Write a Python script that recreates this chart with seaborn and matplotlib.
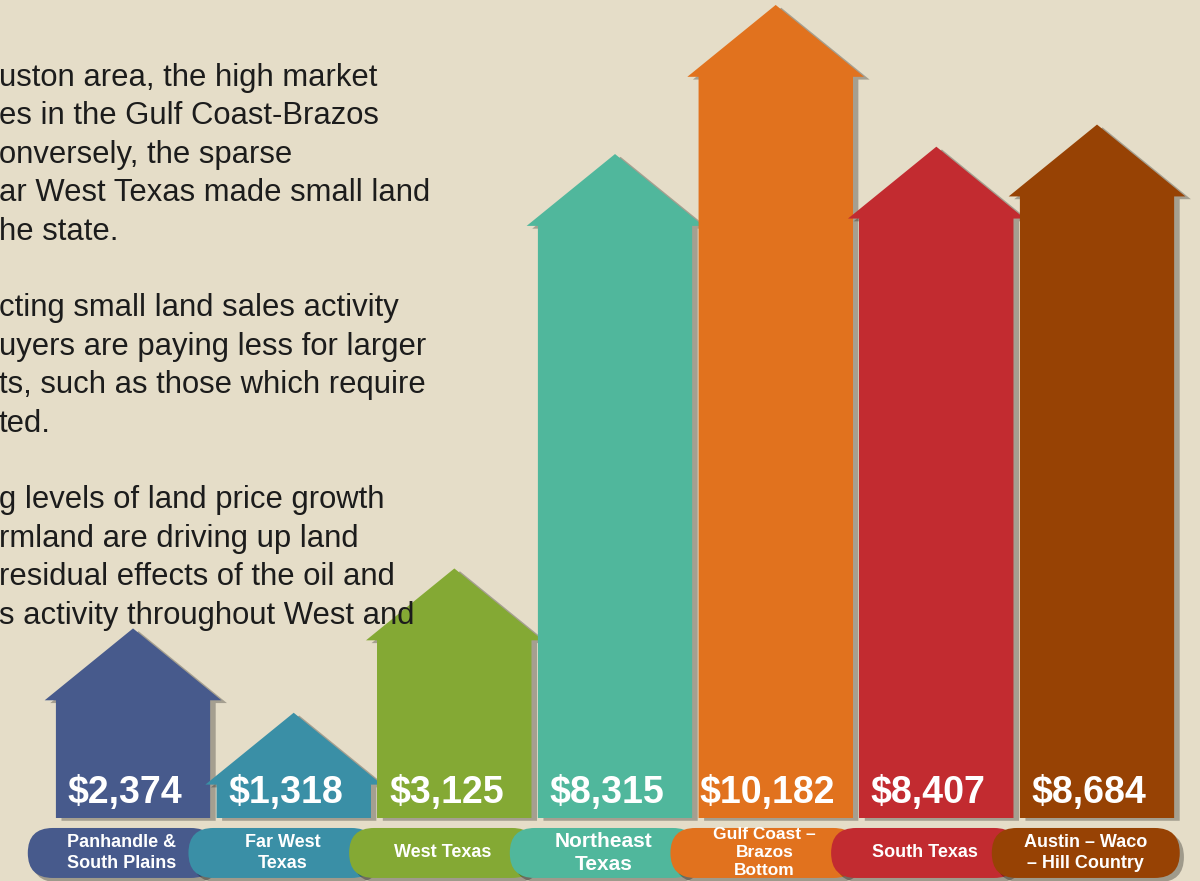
import matplotlib
matplotlib.use("Agg")
import matplotlib.pyplot as plt
import matplotlib.patheffects as pe
from matplotlib.patches import Polygon, FancyBboxPatch
import seaborn as sns
import pandas as pd

# ---- data ----
regions = ["Panhandle &\nSouth Plains", "Far West\nTexas", "West Texas", "Northeast\nTexas",
           "Gulf Coast –\nBrazos\nBottom", "South Texas", "Austin – Waco\n– Hill Country"]
values = [2374, 1318, 3125, 8315, 10182, 8407, 8684]
value_labels = ["$2,374", "$1,318", "$3,125", "$8,315", "$10,182", "$8,407", "$8,684"]
colors = ["#475A8C", "#3A8FA6", "#84A934", "#50B79C", "#E1721E", "#C22B30", "#974204"]
paragraph_lines = [
    "uston area, the high market",
    "es in the Gulf Coast-Brazos",
    "onversely, the sparse",
    "ar West Texas made small land",
    "he state.",
    "",
    "cting small land sales activity",
    "uyers are paying less for larger",
    "ts, such as those which require",
    "ted.",
    "",
    "g levels of land price growth",
    "rmland are driving up land",
    "residual effects of the oil and",
    "s activity throughout West and",
]

BG = "#E5DDC8"
sns.set_theme(style="white")
plt.rcParams["font.family"] = ["Liberation Sans", "DejaVu Sans"]

fig = plt.figure(figsize=(12, 8.81), dpi=100, facecolor=BG)
ax = fig.add_axes([0, 0, 1, 1])
ax.set_facecolor(BG)

roof_h = 900
df = pd.DataFrame({"region": regions, "body": [v - roof_h for v in values]})
sns.barplot(data=df, x="region", y="body", hue="region", palette=colors,
            dodge=False, legend=False, width=0.96, ax=ax, saturation=1,
            linewidth=0, zorder=2)

ax.set_xlim(-0.828, 6.641)
ax.set_ylim(-789, 10244)
ax.axis("off")

shadow = [pe.SimplePatchShadow(offset=(4, -2), shadow_rgbFace="black", alpha=0.28), pe.Normal()]

bars = sorted(ax.patches, key=lambda p: p.get_x())
overhang = 0.07
for i, (bar, v, c, lab) in enumerate(zip(bars, values, colors, value_labels)):
    z = 2 + i
    x0, w, top = bar.get_x(), bar.get_width(), bar.get_height()
    bar.set_zorder(z + 0.5)
    # full house outline (body + roof) carries the shadow
    house = Polygon([(x0, 0), (x0, top), (x0 - overhang, top), (x0 + w / 2, v),
                     (x0 + w + overhang, top), (x0 + w, top), (x0 + w, 0)],
                    closed=True, facecolor=c, edgecolor="none", zorder=z)
    house.set_path_effects(shadow)
    ax.add_patch(house)
    cx = x0 + w / 2
    ax.text(cx - 0.05, 313, lab, color="white", fontsize=27, fontweight="bold",
            ha="center", va="center", zorder=30)

# pills with region names
px_per_x = 160.67
px_per_y = 0.07985
aspect = (1 / px_per_y) * px_per_x
pill_w = 188 / px_per_x
for i, (name, c) in enumerate(zip(regions, colors)):
    cx = i - 0.07
    pill = FancyBboxPatch((cx - pill_w / 2, -751), pill_w, 626,
                          boxstyle="round,pad=0,rounding_size=%f" % (25 / px_per_x),
                          mutation_aspect=aspect, facecolor=c, edgecolor="none",
                          zorder=40 + i)
    pill.set_path_effects([pe.SimplePatchShadow(offset=(3, -3), shadow_rgbFace="black", alpha=0.3), pe.Normal()])
    ax.add_patch(pill)
    fs, ls, yy = 13, 1.3, -438
    if name.startswith("Northeast"):
        fs = 15
    if name.startswith("Gulf"):
        fs, ls, yy = 12.5, 1.25, -438
    ax.text(cx, yy, name, color="white", fontsize=fs, fontweight="bold",
            ha="center", va="center", linespacing=ls, zorder=60 + i)

# paragraph text at upper left
for k, line in enumerate(paragraph_lines):
    if not line:
        continue
    fig.text(-0.001, 1 - (78 + k * 38.4) / 881, line, fontsize=22.3, color="#1C1C1C",
             ha="left", va="center")

fig.savefig("out.png", dpi=100, facecolor=BG)
